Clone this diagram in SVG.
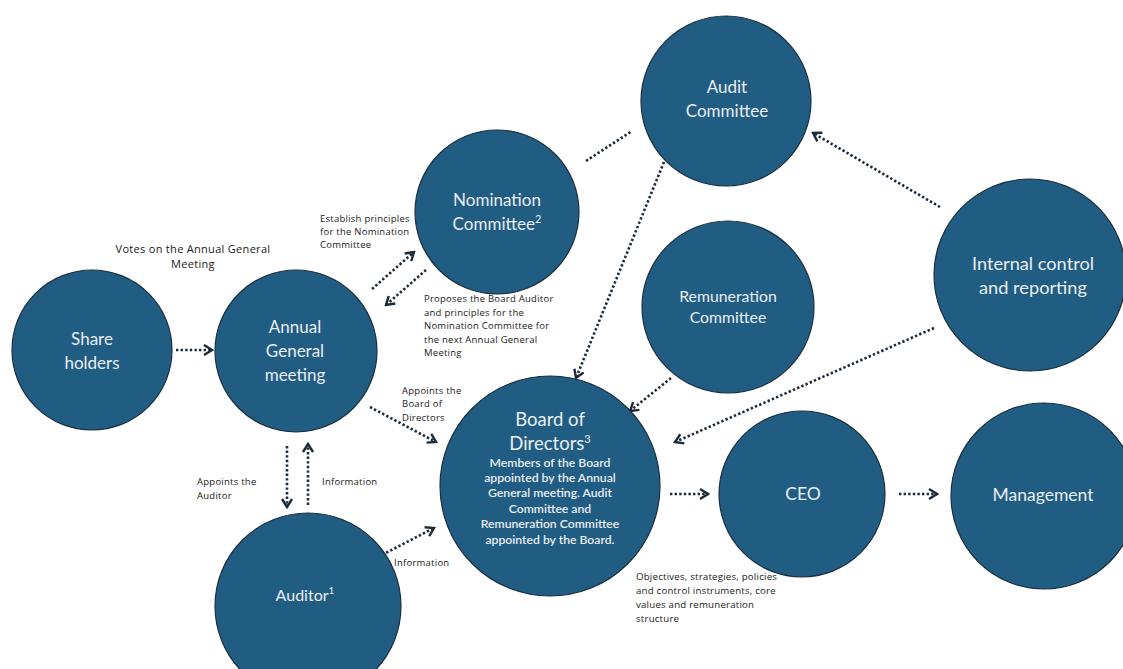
<svg xmlns="http://www.w3.org/2000/svg" width="1123" height="669" viewBox="0 0 1123 669">
<defs>
<style>
.node{fill:#215d82;stroke:#1b2f3f;stroke-width:1.2}
.nt{font-family:Lato,"Open Sans",sans-serif;fill:#e8eef3;text-anchor:middle}
.lbl{font-family:"Open Sans",Lato,sans-serif;fill:#1a1a1a}
.s{font-size:9.5px;letter-spacing:0.25px}
.v{font-size:11px;letter-spacing:0.3px;text-anchor:middle}
.o{font-size:9.7px;letter-spacing:0.2px}
.c{fill:none;stroke:#1c2b3a;stroke-width:2.6;stroke-dasharray:2.4 2.2}
</style>
<marker id="ah" viewBox="0 0 12 12" refX="10" refY="6" markerWidth="12" markerHeight="12" markerUnits="userSpaceOnUse" orient="auto">
<path d="M2,1 L10,6 L2,11" fill="none" stroke="#1c2b3a" stroke-width="2.4"/>
</marker>
</defs>
<rect width="1123" height="669" fill="#ffffff"/>

<g id="connectors">
<line class="c" x1="176" y1="350" x2="212" y2="350" marker-end="url(#ah)"/>
<line class="c" x1="372" y1="289" x2="414" y2="252" marker-end="url(#ah)"/>
<line class="c" x1="426" y1="270" x2="386" y2="305" marker-end="url(#ah)"/>
<line class="c" x1="586" y1="161" x2="632" y2="131"/>
<line class="c" x1="664" y1="162" x2="576" y2="378" marker-end="url(#ah)"/>
<line class="c" x1="940" y1="207" x2="813" y2="133" marker-end="url(#ah)"/>
<line class="c" x1="671" y1="378" x2="630" y2="411" marker-end="url(#ah)"/>
<line class="c" x1="934" y1="328" x2="675" y2="442" marker-end="url(#ah)"/>
<line class="c" x1="370" y1="407" x2="436" y2="442" marker-end="url(#ah)"/>
<line class="c" x1="287" y1="446" x2="287" y2="507" marker-end="url(#ah)"/>
<line class="c" x1="308" y1="505" x2="308" y2="444" marker-end="url(#ah)"/>
<line class="c" x1="378" y1="557" x2="434" y2="528" marker-end="url(#ah)"/>
<line class="c" x1="670" y1="494" x2="708" y2="494" marker-end="url(#ah)"/>
<line class="c" x1="899" y1="494" x2="937" y2="494" marker-end="url(#ah)"/>
</g>

<g id="shareholders">
<circle class="node" cx="92" cy="350" r="80"/>
<text class="nt" font-size="17" x="92" y="345">Share</text>
<text class="nt" font-size="17" x="92" y="369">holders</text>
</g>

<g id="agm">
<circle class="node" cx="296" cy="351" r="81"/>
<text class="nt" font-size="17" x="295" y="333">Annual</text>
<text class="nt" font-size="17" x="295" y="357">General</text>
<text class="nt" font-size="17" x="295" y="381">meeting</text>
</g>

<g id="nomination">
<circle class="node" cx="497" cy="212" r="82"/>
<text class="nt" font-size="17" x="497" y="206">Nomination</text>
<text class="nt" font-size="17" x="497" y="230">Committee<tspan font-size="11" dy="-7">2</tspan></text>
</g>

<g id="audit">
<circle class="node" cx="726" cy="101" r="85"/>
<text class="nt" font-size="17" x="727" y="93">Audit</text>
<text class="nt" font-size="17" x="727" y="117">Committee</text>
</g>

<g id="remuneration">
<circle class="node" cx="728" cy="307" r="86"/>
<text class="nt" font-size="15.8" x="728" y="302">Remuneration</text>
<text class="nt" font-size="15.8" x="728" y="323">Committee</text>
</g>

<g id="internal">
<circle class="node" cx="1030" cy="275" r="96"/>
<text class="nt" font-size="18.2" x="1033" y="270">Internal control</text>
<text class="nt" font-size="18.2" x="1033" y="294">and reporting</text>
</g>

<g id="board">
<circle class="node" cx="550" cy="486" r="110"/>
<text class="nt" font-size="18.5" x="550" y="426">Board of</text>
<text class="nt" font-size="18.5" x="550" y="450">Directors<tspan font-size="11" dy="-7">3</tspan></text>
<text class="nt" font-size="12.2" font-weight="600" x="550" y="467">Members of the Board</text>
<text class="nt" font-size="12.2" font-weight="600" x="550" y="482">appointed by the Annual</text>
<text class="nt" font-size="12.2" font-weight="600" x="550" y="497">General meeting. Audit</text>
<text class="nt" font-size="12.2" font-weight="600" x="550" y="513">Committee and</text>
<text class="nt" font-size="12.2" font-weight="600" x="550" y="528">Remuneration Committee</text>
<text class="nt" font-size="12.2" font-weight="600" x="550" y="544">appointed by the Board.</text>
</g>

<g id="ceo">
<circle class="node" cx="802" cy="494" r="83"/>
<text class="nt" font-size="17.5" x="803" y="500">CEO</text>
</g>

<g id="management">
<circle class="node" cx="1044" cy="496" r="93"/>
<text class="nt" font-size="17.5" x="1043" y="501">Management</text>
</g>

<g id="auditor">
<circle class="node" cx="308" cy="606" r="93"/>
<text class="nt" font-size="16" x="305" y="601">Auditor<tspan font-size="10" dy="-7">1</tspan></text>
</g>

<g id="labels">
<text class="lbl v" x="193" y="253">Votes on the Annual General</text>
<text class="lbl v" x="193" y="268">Meeting</text>
<text class="lbl s" x="320" y="222">Establish principles</text>
<text class="lbl s" x="320" y="235">for the Nomination</text>
<text class="lbl s" x="320" y="248">Committee</text>
<text class="lbl s" x="424" y="302">Proposes the Board Auditor</text>
<text class="lbl s" x="424" y="316">and principles for the</text>
<text class="lbl s" x="424" y="329">Nomination Committee for</text>
<text class="lbl s" x="424" y="343">the next Annual General</text>
<text class="lbl s" x="424" y="356">Meeting</text>
<text class="lbl s" x="402" y="394">Appoints the</text>
<text class="lbl s" x="402" y="407">Board of</text>
<text class="lbl s" x="402" y="421">Directors</text>
<text class="lbl s" x="197" y="485">Appoints the</text>
<text class="lbl s" x="197" y="499">Auditor</text>
<text class="lbl s" x="322" y="485">Information</text>
<text class="lbl s" x="394" y="566">Information</text>
<text class="lbl o" x="636" y="580">Objectives, strategies, policies</text>
<text class="lbl o" x="636" y="594">and control instruments, core</text>
<text class="lbl o" x="636" y="608">values and remuneration</text>
<text class="lbl o" x="636" y="622">structure</text>
</g>
</svg>
